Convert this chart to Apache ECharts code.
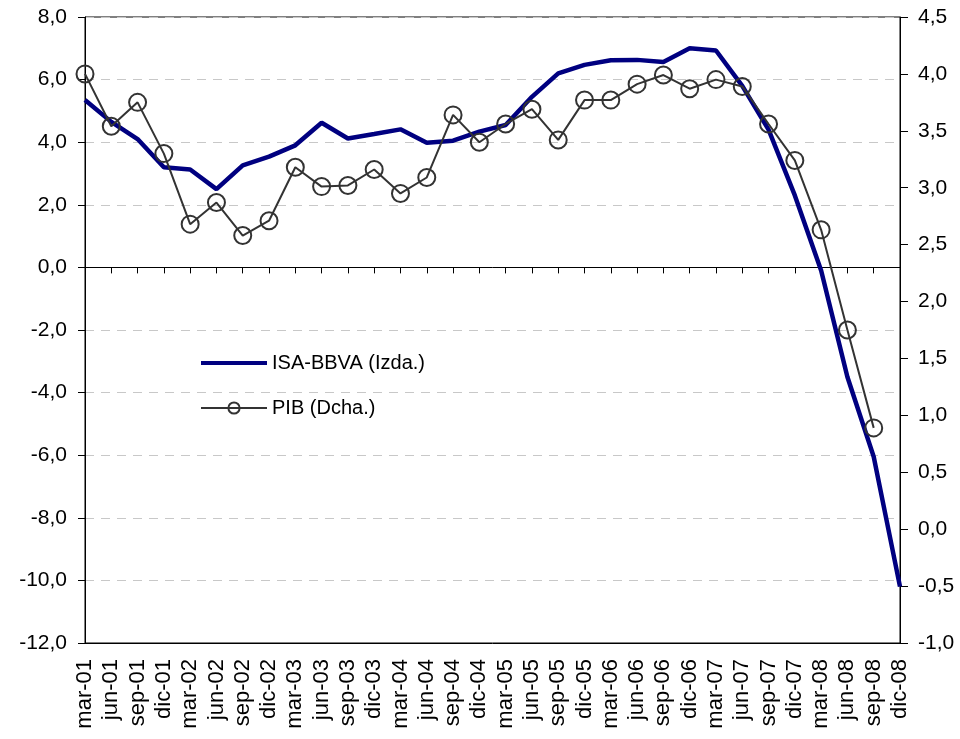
<!DOCTYPE html>
<html>
<head>
<meta charset="utf-8">
<script src="https://cdn.jsdelivr.net/npm/echarts@6/dist/echarts.min.js"></script>
<style>
  html, body { margin: 0; padding: 0; background: #fff; }
  #chart { width: 960px; height: 739px; }
</style>
</head>
<body>
<div id="chart"></div>
<script>
  // trimestres mar-01 .. dic-08
  var categories = [
    'mar-01', 'jun-01', 'sep-01', 'dic-01', 'mar-02', 'jun-02', 'sep-02', 'dic-02',
    'mar-03', 'jun-03', 'sep-03', 'dic-03', 'mar-04', 'jun-04', 'sep-04', 'dic-04',
    'mar-05', 'jun-05', 'sep-05', 'dic-05', 'mar-06', 'jun-06', 'sep-06', 'dic-06',
    'mar-07', 'jun-07', 'sep-07', 'dic-07', 'mar-08', 'jun-08', 'sep-08', 'dic-08'
  ]
  // eje izquierdo
  var isaBbva = [
    5.35, 4.65, 4.1, 3.2, 3.13, 2.5, 3.26, 3.54,
    3.9, 4.62, 4.12, 4.26, 4.41, 3.98, 4.05, 4.34,
    4.55, 5.45, 6.2, 6.47, 6.62, 6.63, 6.56, 7.0,
    6.93, 5.8, 4.4, 2.3, -0.1, -3.5, -6.05, -10.2
  ]
  // eje derecho
  var pib = [
    4.0, 3.54, 3.75, 3.3, 2.68, 2.87, 2.58, 2.71,
    3.18, 3.01, 3.02, 3.16, 2.95, 3.09, 3.64, 3.4,
    3.56, 3.69, 3.42, 3.77, 3.77, 3.91, 3.99, 3.87,
    3.95, 3.89, 3.56, 3.24, 2.63, 1.75, 0.89, null
  ]
  var leftTicks = { min: -12, max: 8, interval: 2 }
  var rightTicks = { min: -1, max: 4.5, interval: 0.5 }

  function fmt (v) {
    return v.toFixed(1).replace('.', ',')
  }

  var myChart = echarts.init(document.getElementById('chart'))
  var font = 'Liberation Sans, Arial, sans-serif'
  var option = {
    animation: false,
    backgroundColor: '#fff',
    textStyle: { fontFamily: font },
    grid: {
      left: 85, right: 60, top: 17, bottom: 96,
      show: true, borderColor: '#000', borderWidth: 1, backgroundColor: 'transparent'
    },
    legend: {
      orient: 'vertical',
      left: 195,
      top: 348,
      itemWidth: 66,
      itemHeight: 14,
      itemGap: 25,
      textStyle: { fontSize: 20, color: '#000', fontFamily: font },
      data: [
        { name: 'ISA-BBVA (Izda.)', icon: 'path://M0,0L66,0L66,4L0,4Z' },
        { name: 'PIB (Dcha.)' }
      ]
    },
    xAxis: [{
      type: 'category',
      data: categories,
      boundaryGap: false,
      position: 'bottom',
      axisLine: { onZero: false, lineStyle: { color: '#000' } },
      axisTick: { show: false },
      axisLabel: { rotate: 90, fontSize: 22, color: '#000', margin: 16, interval: 0 },
      splitLine: { show: false }
    }, {
      type: 'category',
      data: categories,
      boundaryGap: false,
      position: 'bottom',
      axisLine: { onZero: true, onZeroAxisIndex: 0, lineStyle: { color: '#000', width: 1 } },
      axisTick: { show: true, inside: false, length: 6, interval: 0, lineStyle: { color: '#000' } },
      axisLabel: { show: false },
      splitLine: { show: false }
    }],
    yAxis: [{
      type: 'value',
      position: 'left',
      min: leftTicks.min,
      max: leftTicks.max,
      interval: leftTicks.interval,
      axisLine: { show: true, lineStyle: { color: '#000' } },
      axisTick: { show: true, length: 7, lineStyle: { color: '#000' } },
      axisLabel: { fontSize: 21, color: '#000', margin: 18, formatter: fmt },
      splitLine: { show: true, lineStyle: { color: '#c8c8c8', type: [9, 7], width: 1 } }
    }, {
      type: 'value',
      position: 'right',
      min: rightTicks.min,
      max: rightTicks.max,
      interval: rightTicks.interval,
      axisLine: { show: true, lineStyle: { color: '#000' } },
      axisTick: { show: true, length: 8, lineStyle: { color: '#000' } },
      axisLabel: { fontSize: 21, color: '#000', margin: 18, formatter: fmt },
      splitLine: { show: false }
    }],
    series: [{
      name: 'ISA-BBVA (Izda.)',
      type: 'line',
      data: isaBbva,
      yAxisIndex: 0,
      xAxisIndex: 0,
      showSymbol: false,
      symbol: 'none',
      lineStyle: { color: '#000080', width: 4.5 },
      itemStyle: { color: '#000080' },
      z: 3
    }, {
      name: 'PIB (Dcha.)',
      type: 'line',
      data: pib,
      yAxisIndex: 1,
      xAxisIndex: 0,
      symbol: 'circle',
      symbolSize: 17,
      showSymbol: true,
      lineStyle: { color: '#333', width: 2 },
      itemStyle: { color: 'transparent', borderColor: '#333', borderWidth: 2 },
      z: 4
    }]
  }
  myChart.setOption(option)
</script>
</body>
</html>
